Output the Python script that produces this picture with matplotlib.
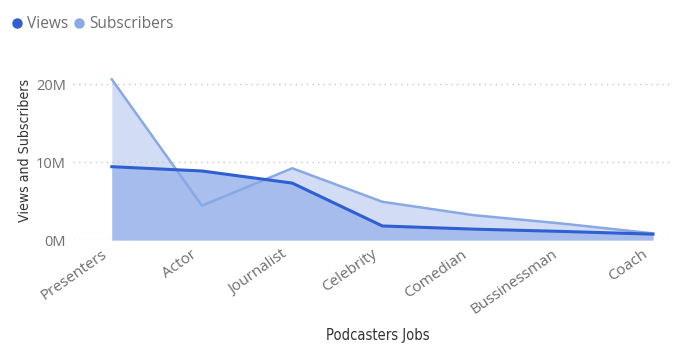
import matplotlib
matplotlib.use("Agg")
import matplotlib.pyplot as plt
from matplotlib.lines import Line2D
import matplotlib.transforms as mtransforms
import numpy as np

# Podcaster jobs and audience figures (millions)
jobs = ["Presenters", "Actor", "Journalist", "Celebrity", "Comedian", "Bussinessman", "Coach"]
views_m = [9.4, 8.85, 7.3, 1.8, 1.4, 1.1, 0.75]
subscribers_m = [20.6, 4.4, 9.2, 4.9, 3.2, 2.1, 0.85]
ytick_values = [0, 10, 20]
ytick_labels = ["0M", "10M", "20M"]

views_line = "#2F5FD0"
views_fill = "#A2BAEC"
subs_line = "#88A8E6"
subs_fill = "#D2DDF5"
label_gray = "#6E6E6E"
title_gray = "#333333"

x = np.arange(len(jobs))
views = np.array(views_m) * 1e6
subs = np.array(subscribers_m) * 1e6

fig = plt.figure(figsize=(6.74, 3.45), dpi=100)
ax = fig.add_axes([0.108, 0.3043, 0.889, 0.4974])

ax.fill_between(x, 0, subs, color=subs_fill, lw=0, zorder=1)
ax.fill_between(x, 0, views, color=views_fill, alpha=0.92, lw=0, zorder=2)
ax.plot(x, subs, color=subs_line, lw=1.8, zorder=3, solid_joinstyle="miter")
ax.plot(x, views, color=views_line, lw=2.2, zorder=4, solid_joinstyle="miter")

ax.set_xlim(-0.4325, 6.21)
ax.set_ylim(0, 22e6)
ax.set_yticks([v * 1e6 for v in ytick_values])
ax.set_yticklabels(ytick_labels, fontsize=10.5, color=label_gray, family="Open Sans")
ax.tick_params(axis="y", length=0, pad=5)
ax.grid(axis="y", color="#C8C8C8", linestyle=(0, (1, 3)), lw=1.0, zorder=0)
for s in ax.spines.values():
    s.set_visible(False)

ax.set_xticks(x)
ax.set_xticklabels(jobs, rotation=35, ha="right", va="top", rotation_mode="anchor",
                   fontsize=11, color=label_gray, family="Open Sans")
ax.tick_params(axis="x", length=0, pad=5)
shift = mtransforms.ScaledTranslation(-11 / 100, 0, fig.dpi_scale_trans)
for lbl in ax.get_xticklabels():
    lbl.set_transform(lbl.get_transform() + shift)

fig.text(0.0375, 0.565, "Views and Subscribers", rotation=90, ha="center", va="center",
         fontsize=10.1, color=title_gray, family="DejaVu Sans", fontstretch="condensed")
fig.text(0.56, 0.028, "Podcasters Jobs", ha="center", va="center",
         fontsize=10.5, color=title_gray, family="DejaVu Sans", fontstretch="condensed")

handles = [
    Line2D([], [], marker="o", ls="none", color=views_line, markersize=6.5),
    Line2D([], [], marker="o", ls="none", color=subs_line, markersize=6.5),
]
fig.legend(handles, ["Views", "Subscribers"], loc="center left", bbox_to_anchor=(0.008, 0.93),
           ncol=2, frameon=False, handlelength=0.7, handletextpad=0.3, columnspacing=0.35,
           prop={"family": "Open Sans", "size": 11.2}, labelcolor=label_gray, borderaxespad=0)

fig.savefig("out.png", dpi=100)
